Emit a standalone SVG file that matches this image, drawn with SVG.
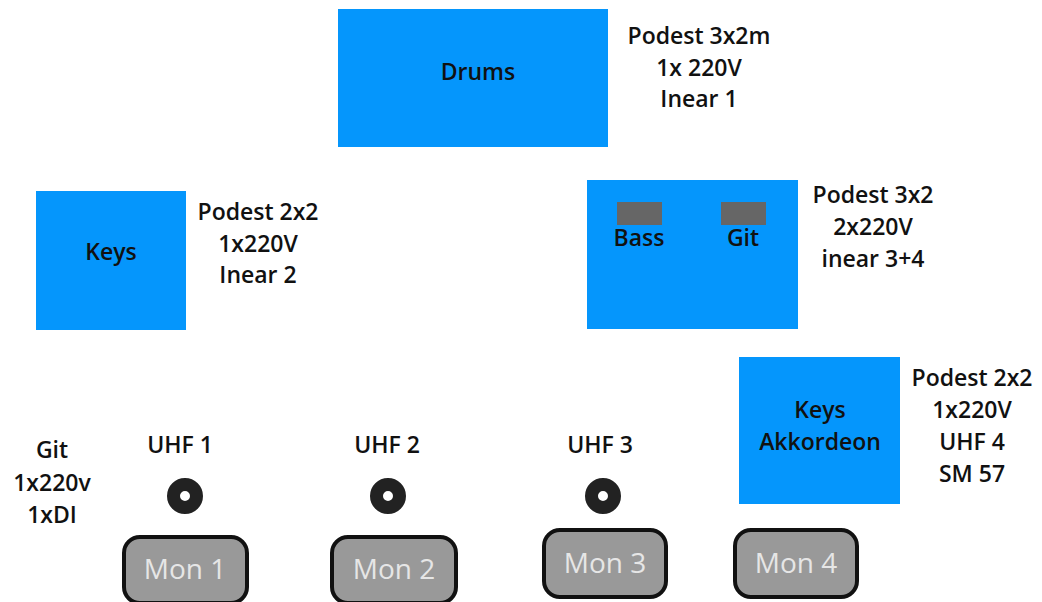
<svg xmlns="http://www.w3.org/2000/svg" width="1042" height="602" viewBox="0 0 1042 602">
<style>
text{font-family:"Open Sans","Noto Sans","Liberation Sans",sans-serif;font-size:23px;font-weight:600;fill:#111;text-anchor:middle}
.box{fill:#0596fc}
.amp{fill:#666}
.mon rect{fill:#999;stroke:#111;stroke-width:4}
.mon text{fill:#e6e6e6;font-size:28px;font-weight:400}
.uhf circle{fill:none;stroke:#222;stroke-width:13}
</style>
<rect width="1042" height="602" fill="#fff"/>
<g id="drums">
<rect class="box" x="338" y="9" width="270" height="138"/>
<text x="478" y="80">Drums</text>
<text x="699" y="44">Podest 3x2m</text>
<text x="699" y="76">1x 220V</text>
<text x="699" y="107">Inear 1</text>
</g>
<g id="keys">
<rect class="box" x="36" y="191" width="150" height="139"/>
<text x="111" y="260">Keys</text>
<text x="258" y="220">Podest 2x2</text>
<text x="258" y="252">1x220V</text>
<text x="258" y="283">Inear 2</text>
</g>
<g id="bass-git">
<rect class="box" x="587" y="180" width="211" height="149"/>
<rect class="amp" x="617" y="202" width="45" height="23"/>
<rect class="amp" x="721" y="202" width="45" height="23"/>
<text x="639" y="246">Bass</text>
<text x="743" y="246">Git</text>
<text x="873" y="203">Podest 3x2</text>
<text x="873" y="235">2x220V</text>
<text x="873" y="267">inear 3+4</text>
</g>
<g id="keys-akkordeon">
<rect class="box" x="739" y="357" width="161" height="147"/>
<text x="820" y="418">Keys</text>
<text x="820" y="450">Akkordeon</text>
<text x="972" y="386">Podest 2x2</text>
<text x="972" y="418">1x220V</text>
<text x="972" y="450">UHF 4</text>
<text x="972" y="482">SM 57</text>
</g>
<g id="git-left">
<text x="52" y="458">Git</text>
<text x="52" y="491">1x220v</text>
<text x="52" y="523">1xDI</text>
</g>
<g id="uhf1" class="uhf">
<text x="180" y="453">UHF 1</text>
<circle cx="185" cy="496" r="11.5"/>
</g>
<g id="uhf2" class="uhf">
<text x="387" y="453">UHF 2</text>
<circle cx="388" cy="496" r="11.5"/>
</g>
<g id="uhf3" class="uhf">
<text x="600" y="453">UHF 3</text>
<circle cx="603" cy="496" r="11.5"/>
</g>
<g id="mon1" class="mon">
<rect x="124" y="537" width="123" height="66" rx="16"/>
<text x="185" y="579">Mon 1</text>
</g>
<g id="mon2" class="mon">
<rect x="332" y="537" width="124" height="66" rx="16"/>
<text x="394" y="579">Mon 2</text>
</g>
<g id="mon3" class="mon">
<rect x="544" y="530" width="122" height="67" rx="16"/>
<text x="605" y="573">Mon 3</text>
</g>
<g id="mon4" class="mon">
<rect x="735" y="530" width="122" height="67" rx="16"/>
<text x="796" y="573">Mon 4</text>
</g>
<g id="connectors"/>
</svg>
